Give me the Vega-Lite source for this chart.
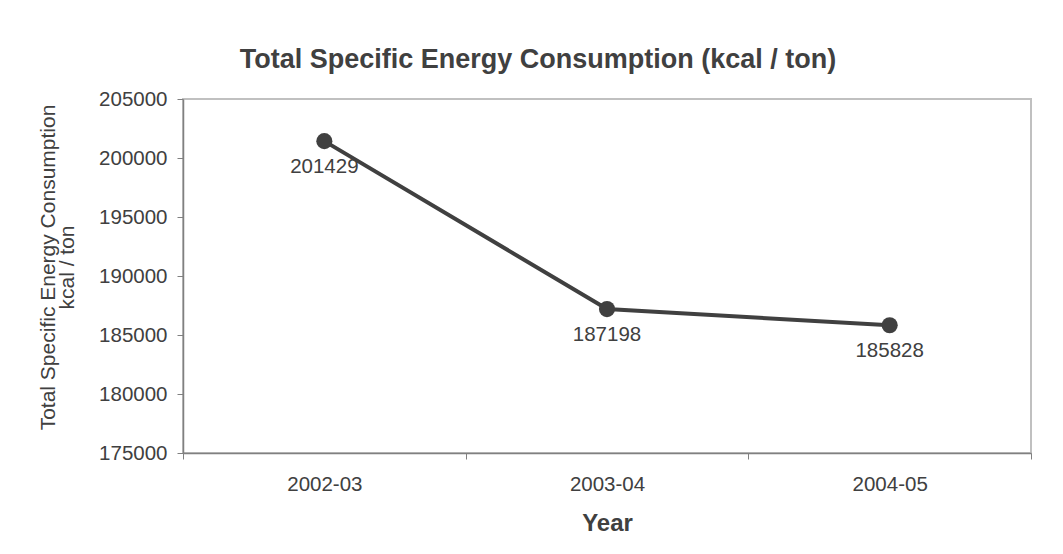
{
  "$schema": "https://vega.github.io/schema/vega-lite/v6.json",
  "autosize": "none",
  "width": 848,
  "height": 354,
  "padding": {"left": 183, "top": 99, "right": 32, "bottom": 101},
  "background": "white",
  "title": {
    "text": "Total Specific Energy Consumption (kcal / ton)",
    "font": "Liberation Sans",
    "fontSize": 27,
    "fontWeight": "bold",
    "color": "#404040",
    "anchor": "middle",
    "dx": -69,
    "offset": 15
  },
  "config": {
    "view": {"stroke": "#c0c0c0", "strokeWidth": 2},
    "axis": {
      "labelFont": "Liberation Sans",
      "titleFont": "Liberation Sans",
      "labelColor": "#404040",
      "titleColor": "#404040",
      "domainColor": "#808080",
      "tickColor": "#808080",
      "domainWidth": 1.5,
      "tickWidth": 1,
      "grid": false
    }
  },
  "data": {
    "values": [
      {"year": "2002-03", "value": 201429},
      {"year": "2003-04", "value": 187198},
      {"year": "2004-05", "value": 185828}
    ]
  },
  "encoding": {
    "x": {
      "field": "year",
      "type": "ordinal",
      "scale": {"paddingInner": 0, "paddingOuter": 0},
      "axis": {
        "title": "Year",
        "titleFontSize": 24,
        "titleFontWeight": "bold",
        "titleBaseline": "middle",
        "titleY": 70,
        "labelAngle": 0,
        "labelFontSize": 20.5,
        "labelPadding": 15,
        "tickSize": 6,
        "tickBand": "extent"
      }
    },
    "y": {
      "field": "value",
      "type": "quantitative",
      "scale": {"domain": [175000, 205000], "zero": false, "nice": false},
      "axis": {
        "title": ["Total Specific Energy Consumption", "kcal / ton"],
        "titleFontSize": 21,
        "titleFontWeight": "normal",
        "titleX": -129,
        "titleY": 168,
        "titleAngle": -90,
        "titleAlign": "center",
        "titleBaseline": "alphabetic",
        "titleLineHeight": 19,
        "values": [175000, 180000, 185000, 190000, 195000, 200000, 205000],
        "format": "d",
        "labelFontSize": 20.5,
        "labelPadding": 10,
        "tickSize": 6
      }
    }
  },
  "layer": [
    {"mark": {"type": "line", "color": "#404040", "strokeWidth": 4}},
    {"mark": {"type": "point", "filled": true, "color": "#404040", "size": 260, "opacity": 1}},
    {
      "mark": {"type": "text", "font": "Liberation Sans", "fontSize": 20.5, "color": "#404040", "dy": 26, "baseline": "middle"},
      "encoding": {"text": {"field": "value", "type": "quantitative", "format": "d"}}
    }
  ]
}
